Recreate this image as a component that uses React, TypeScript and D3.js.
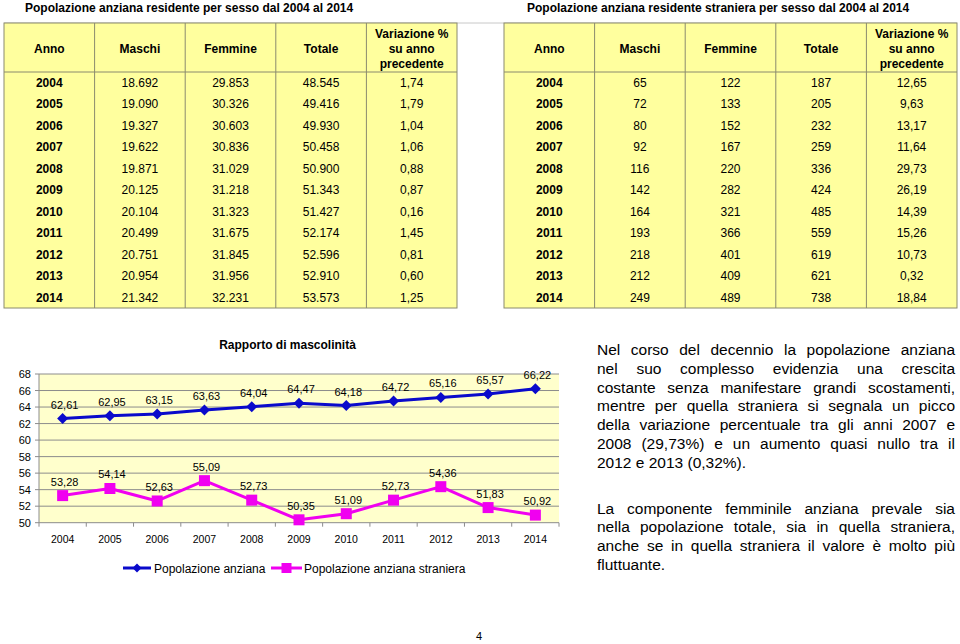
import React from "react";
import * as d3 from "d3";

// ---------- DATA ----------
const years = ["2004", "2005", "2006", "2007", "2008", "2009", "2010", "2011", "2012", "2013", "2014"];

const totMaschi = [18692, 19090, 19327, 19622, 19871, 20125, 20104, 20499, 20751, 20954, 21342];
const totFemmine = [29853, 30326, 30603, 30836, 31029, 31218, 31323, 31675, 31845, 31956, 32231];
const totTotale = [48545, 49416, 49930, 50458, 50900, 51343, 51427, 52174, 52596, 52910, 53573];
const totVariazione = [1.74, 1.79, 1.04, 1.06, 0.88, 0.87, 0.16, 1.45, 0.81, 0.6, 1.25];

const strMaschi = [65, 72, 80, 92, 116, 142, 164, 193, 218, 212, 249];
const strFemmine = [122, 133, 152, 167, 220, 282, 321, 366, 401, 409, 489];
const strTotale = [187, 205, 232, 259, 336, 424, 485, 559, 619, 621, 738];
const strVariazione = [12.65, 9.63, 13.17, 11.64, 29.73, 26.19, 14.39, 15.26, 10.73, 0.32, 18.84];

const ratioAnziana = [62.61, 62.95, 63.15, 63.63, 64.04, 64.47, 64.18, 64.72, 65.16, 65.57, 66.22];
const ratioStraniera = [53.28, 54.14, 52.63, 55.09, 52.73, 50.35, 51.09, 52.73, 54.36, 51.83, 50.92];

const yTicks = [50, 52, 54, 56, 58, 60, 62, 64, 66, 68];

const tableHeaders = ["Anno", "Maschi", "Femmine", "Totale"];
const varHeader = ["Variazione %", "su anno", "precedente"];

const titleTot = "Popolazione anziana residente per sesso dal 2004 al 2014";
const titleStr = "Popolazione anziana residente straniera per sesso dal 2004 al 2014";
const chartTitle = "Rapporto di mascolinità";
const seriesNames = ["Popolazione anziana", "Popolazione anziana straniera"];

const para1 = [
  "Nel corso del decennio la popolazione anziana",
  "nel suo complesso evidenzia una crescita",
  "costante senza manifestare grandi scostamenti,",
  "mentre per quella straniera si segnala un picco",
  "della variazione percentuale tra gli anni 2007 e",
  "2008 (29,73%) e un aumento quasi nullo tra il",
  "2012 e 2013 (0,32%).",
];
const para2 = [
  "La componente femminile anziana prevale sia",
  "nella popolazione totale, sia in quella straniera,",
  "anche se in quella straniera il valore è molto più",
  "fluttuante.",
];
const pageNumber = "4";

// ---------- HELPERS ----------
const FONT = '"Liberation Sans", Arial, Helvetica, sans-serif';
const it = d3.formatLocale({ decimal: ",", thousands: ".", grouping: [3], currency: ["€", ""] });
const fmtInt = it.format(",d");
const fmtDec = it.format(".2f");

let _ctx: CanvasRenderingContext2D | null = null;
function measure(text: string, size: number, weight = "normal") {
  if (!_ctx) {
    const c = document.createElement("canvas");
    _ctx = c.getContext("2d");
  }
  if (!_ctx) return text.length * size * 0.5;
  _ctx.font = `${weight} ${size}px ${FONT}`;
  return _ctx.measureText(text).width;
}

function JustifiedParagraph({ lines, x, width, y0, lh, size }: any) {
  return (
    <g fontFamily={FONT} fontSize={size} fill="#000">
      {lines.map((line: string, i: number) => {
        const y = y0 + i * lh;
        const last = i === lines.length - 1;
        const words = line.split(" ");
        if (last || words.length < 2) {
          return (
            <text key={i} x={x} y={y}>
              {line}
            </text>
          );
        }
        const widths = words.map((w) => measure(w, size));
        const total = d3.sum(widths);
        const gap = (width - total) / (words.length - 1);
        let cx = x;
        return (
          <g key={i}>
            {words.map((w, j) => {
              const px = cx;
              cx += widths[j] + gap;
              return (
                <text key={j} x={px} y={y}>
                  {w}
                </text>
              );
            })}
          </g>
        );
      })}
    </g>
  );
}

function DataTable({ x0, x1, y0, y1, headerBottom, rows, title, titleX }: any) {
  const cols = d3.scaleBand<number>().domain([0, 1, 2, 3, 4]).range([x0, x1]);
  const rowY = d3.scaleBand<number>().domain(d3.range(rows.length)).range([headerBottom, y1]);
  const border = "#8a8a6e";
  return (
    <g fontFamily={FONT}>
      <text x={titleX} y={12} fontSize={12} fontWeight="bold">
        {title}
      </text>
      <rect x={x0} y={y0} width={x1 - x0} height={y1 - y0} fill="#FFFF9E" stroke={border} strokeWidth={1} />
      <line x1={x0} x2={x1} y1={headerBottom} y2={headerBottom} stroke={border} />
      {[1, 2, 3, 4].map((c) => (
        <line key={c} x1={cols(c)!} x2={cols(c)!} y1={y0} y2={y1} stroke={border} />
      ))}
      {tableHeaders.map((h, c) => (
        <text
          key={h}
          x={cols(c)! + cols.bandwidth() / 2}
          y={52.5}
          fontSize={12}
          fontWeight="bold"
          textAnchor="middle"
        >
          {h}
        </text>
      ))}
      {varHeader.map((h, k) => (
        <text
          key={h}
          x={cols(4)! + cols.bandwidth() / 2}
          y={37.5 + k * 15}
          fontSize={12}
          fontWeight="bold"
          textAnchor="middle"
        >
          {h}
        </text>
      ))}
      {rows.map((r: string[], i: number) => (
        <g key={i}>
          {r.map((v, c) => (
            <text
              key={c}
              x={cols(c)! + cols.bandwidth() / 2}
              y={rowY(i)! + rowY.bandwidth() / 2 + 4.3}
              fontSize={12}
              fontWeight={c === 0 ? "bold" : "normal"}
              textAnchor="middle"
            >
              {v}
            </text>
          ))}
        </g>
      ))}
    </g>
  );
}

function diamondPath(cx: number, cy: number, r: number) {
  return `M${cx},${cy - r}L${cx + r},${cy}L${cx},${cy + r}L${cx - r},${cy}Z`;
}

export default function App() {
  const totRows = years.map((y, i) => [
    y,
    fmtInt(totMaschi[i]),
    fmtInt(totFemmine[i]),
    fmtInt(totTotale[i]),
    fmtDec(totVariazione[i]),
  ]);
  const strRows = years.map((y, i) => [
    y,
    fmtInt(strMaschi[i]),
    fmtInt(strFemmine[i]),
    fmtInt(strTotale[i]),
    fmtDec(strVariazione[i]),
  ]);

  // chart
  const plotL = 39;
  const plotR = 559;
  const plotT = 374;
  const plotB = 522.7;
  const x = d3.scaleBand<string>().domain(years).range([plotL, plotR]).padding(0);
  const y = d3.scaleLinear().domain([50, 68]).range([plotB, plotT]);
  const cx = (yr: string) => x(yr)! + x.bandwidth() / 2;

  const blue = "#0A0ACB";
  const magenta = "#F000F0";
  const lineGen = (vals: number[]) =>
    d3
      .line<number>()
      .x((_, i) => cx(years[i]))
      .y((v) => y(v))(vals) as string;

  return (
    <svg
      width={960}
      height={644}
      viewBox="0 0 960 644"
      style={{ position: "absolute", left: 0, top: 0, background: "#fff" }}
    >
      <rect x={0} y={0} width={960} height={644} fill="#fff" />
      <line x1={4} x2={957} y1={23} y2={23} stroke="#c8c8c8" />
      <DataTable x0={4} x1={457} y0={23} y1={308} headerBottom={72} rows={totRows} title={titleTot} titleX={25} />
      <DataTable x0={504} x1={957} y0={23} y1={308} headerBottom={72} rows={strRows} title={titleStr} titleX={527} />

      {/* Chart */}
      <g fontFamily={FONT}>
        <text x={287.5} y={349} fontSize={12} fontWeight="bold" textAnchor="middle">
          {chartTitle}
        </text>
        <rect x={plotL} y={plotT} width={plotR - plotL} height={plotB - plotT} fill="#FFFFCC" />
        {yTicks.map((t) => (
          <g key={t}>
            {t !== 50 && (
              <line x1={plotL} x2={plotR} y1={y(t)} y2={y(t)} stroke="#8c8c8c" strokeWidth={1} />
            )}
            <line x1={plotL - 4} x2={plotL} y1={y(t)} y2={y(t)} stroke="#8c8c8c" />
            <text x={31} y={y(t) + 4} fontSize={11} textAnchor="end">
              {t}
            </text>
          </g>
        ))}
        <line x1={plotL} x2={plotL} y1={plotT} y2={plotB} stroke="#8c8c8c" />
        <line x1={plotL} x2={plotR} y1={plotB} y2={plotB} stroke="#8c8c8c" />
        {years.map((yr) => (
          <line key={yr} x1={x(yr)!} x2={x(yr)!} y1={plotB} y2={plotB + 4} stroke="#8c8c8c" />
        ))}
        <line x1={plotR} x2={plotR} y1={plotB} y2={plotB + 4} stroke="#8c8c8c" />
        {years.map((yr) => (
          <text key={yr} x={cx(yr)} y={543} fontSize={10.5} textAnchor="middle">
            {yr}
          </text>
        ))}

        {/* series lines */}
        <path d={lineGen(ratioAnziana)} fill="none" stroke={blue} strokeWidth={3} strokeLinejoin="round" />
        <path d={lineGen(ratioStraniera)} fill="none" stroke={magenta} strokeWidth={3} strokeLinejoin="round" />
        {ratioAnziana.map((v, i) => (
          <path key={i} d={diamondPath(cx(years[i]), y(v), 5.5)} fill={blue} />
        ))}
        {ratioStraniera.map((v, i) => (
          <rect key={i} x={cx(years[i]) - 5.5} y={y(v) - 5.5} width={11} height={11} fill={magenta} />
        ))}
        {ratioAnziana.map((v, i) => (
          <text key={i} x={cx(years[i]) + 2} y={y(v) - 10} fontSize={11} textAnchor="middle">
            {fmtDec(v)}
          </text>
        ))}
        {ratioStraniera.map((v, i) => (
          <text key={i} x={cx(years[i]) + 2} y={y(v) - 10} fontSize={11} textAnchor="middle">
            {fmtDec(v)}
          </text>
        ))}

        {/* legend */}
        <line x1={123} x2={151} y1={568} y2={568} stroke={blue} strokeWidth={3} />
        <path d={diamondPath(137, 568, 4.5)} fill={blue} />
        <text x={154} y={572.5} fontSize={12}>
          {seriesNames[0]}
        </text>
        <line x1={271} x2={302} y1={568} y2={568} stroke={magenta} strokeWidth={3} />
        <rect x={281.5} y={563} width={10} height={10} fill={magenta} />
        <text x={304} y={572.5} fontSize={12}>
          {seriesNames[1]}
        </text>
      </g>

      {/* Commentary */}
      <JustifiedParagraph lines={para1} x={597} width={358} y0={355} lh={18.8} size={15.5} />
      <JustifiedParagraph lines={para2} x={597} width={358} y0={513.5} lh={18.9} size={15.5} />

      <text x={479} y={640} fontFamily={FONT} fontSize={11} textAnchor="middle">
        {pageNumber}
      </text>
    </svg>
  );
}
